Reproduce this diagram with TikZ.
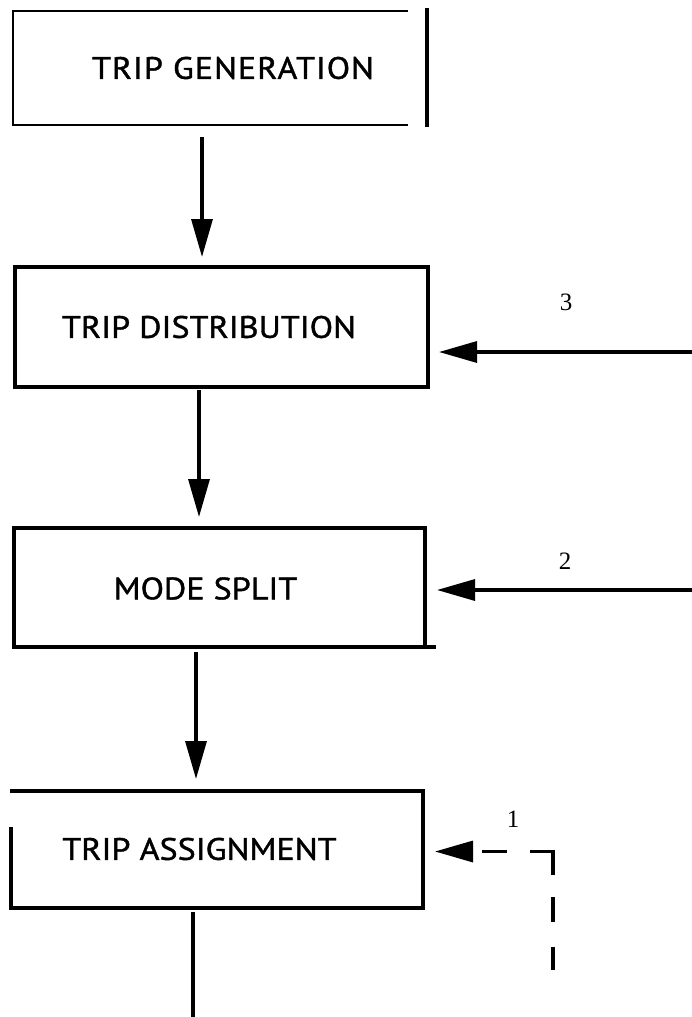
\documentclass[tikz,border=0pt]{standalone}
\usepackage{fontspec}
\usetikzlibrary{arrows.meta}
\newfontfamily\boxfont[FakeStretch=1.1,FakeBold=1.2]{PT Sans}
\newfontfamily\numfont{Liberation Serif}
\begin{document}
\begin{tikzpicture}[x=1pt,y=-1pt,
  boxshape/.style={rectangle,draw=none,outer sep=0pt,inner sep=0pt},
  boxline/.style={line width=3.6pt,line cap=butt,line join=miter},
  thinline/.style={line width=2.6pt},
  boxtext/.style={font=\boxfont\fontsize{31}{36}\selectfont,inner sep=0pt},
  numtext/.style={font=\numfont\fontsize{25}{28}\selectfont,inner sep=0pt},
  arr/.style={line width=3.3pt,-{Triangle[length=38pt,width=21pt]}},
  dasharr/.style={arr,line join=miter,dash pattern=on 23pt off 25pt on 25pt off 22pt on 47pt off 23pt on 25pt off 100pt}]
\fill[white] (0,0) rectangle (692,1017);
\useasboundingbox (0,0) rectangle (692,1017);

% boxes
\node[boxshape,minimum width=395pt,minimum height=114pt] (b1) at (210.5,68) {};
\node[boxshape,minimum width=413pt,minimum height=120pt] (b2) at (221.5,327) {};
\node[boxshape,minimum width=411pt,minimum height=119pt] (b3) at (219.5,587.5) {};
\node[boxshape,minimum width=412pt,minimum height=117pt] (b4) at (217,849.5) {};

% box texts
\node[boxtext] (t1) at (233,68) {\addfontfeature{LetterSpace=3}TRIP GENERATION};
\node[boxtext] (t2) at (209,327) {TRIP DISTRIBUTION};
\node[boxtext] (t3) at (205.5,588.5) {MODE SPLIT};
\node[boxtext] (t4) at (199.5,849) {TRIP ASSIGNMENT};

% box outlines
\draw[thinline] (b1.north east) -- (b1.north west) -- (b1.south west) -- (b1.south east);
\draw[boxline] ([xshift=19pt,yshift=3pt]b1.north east) -- ([xshift=19pt,yshift=-2pt]b1.south east);
\draw[boxline] (b2.north west) rectangle (b2.south east);
\draw[boxline] (b3.north west) rectangle (b3.south east);
\draw[boxline] (b3.south east) -- ++(11,0);
\draw[boxline] ([xshift=-1pt]b4.north west) -- (b4.north east) -- (b4.south east) -- (b4.south west) -- ([yshift=81pt]b4.south west);

% vertical flow
\draw[arr] ([xshift=-8.5pt,yshift=-12pt]b1.south) -- ([xshift=-19.5pt,yshift=10pt]b2.north);
\draw[arr] ([xshift=-22.5pt,yshift=-3pt]b2.south) -- ([xshift=-20.5pt,yshift=11pt]b3.north);
\draw[arr] ([xshift=-23.5pt,yshift=-5pt]b3.south) -- ([xshift=-21pt,yshift=12pt]b4.north);
\coordinate (endb) at (193,1017);
\draw[boxline] ([xshift=-24pt,yshift=-4pt]b4.south) -- (endb);

% feedback inputs
\coordinate (in3) at (692,352);
\coordinate (in2) at (692,590);
\coordinate (in1) at (553,970);
\draw[arr] (in3) -- ([xshift=11pt,yshift=-25pt]b2.east);
\draw[arr] (in2) -- ([xshift=12pt,yshift=-2.5pt]b3.east);
\draw[dasharr] (in1) |- ([xshift=12pt,yshift=-2pt]b4.east);

\node[numtext] (n3) at (566,302) {3};
\node[numtext] (n2) at (565,561) {2};
\node[numtext] (n1) at (513,819) {1};
\end{tikzpicture}
\end{document}
